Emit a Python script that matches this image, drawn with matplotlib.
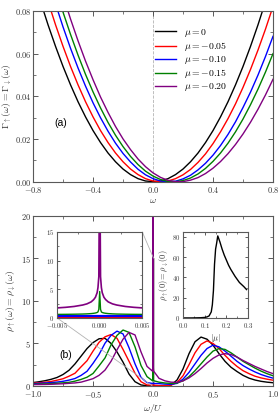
import numpy as np
import matplotlib
matplotlib.use('Agg')
import matplotlib.pyplot as plt
from matplotlib import ticker
from mpl_toolkits.axes_grid1.inset_locator import mark_inset

plt.rcParams['mathtext.fontset'] = 'cm'
plt.rcParams['font.family'] = ['DejaVu Serif']
plt.rcParams['axes.unicode_minus'] = True

# ---- data: panel (a) Gamma(omega) ----
mu_labels = [r'$\mu = 0$', r'$\mu = -0.05$', r'$\mu = -0.10$', r'$\mu = -0.15$', r'$\mu = -0.20$']
colors = ['black', 'red', 'blue', 'green', 'purple']

w_a = np.round(np.arange(-0.8, 0.801, 0.05), 2)
gam_0 = [0.096, 0.0844, 0.0735, 0.0634, 0.054, 0.0454, 0.0375, 0.0304, 0.024, 0.0184, 0.0135, 0.0094, 0.006,
         0.0034, 0.0015, 0.0004, 0.0001, 0.0004, 0.0015, 0.0034, 0.006, 0.0094, 0.0135, 0.0184, 0.024, 0.0304,
         0.0375, 0.0454, 0.054, 0.0634, 0.0735, 0.0844, 0.096]
gam_005 = [0.108, 0.096, 0.0844, 0.0735, 0.0634, 0.054, 0.0454, 0.0375, 0.0304, 0.024, 0.0184, 0.0135, 0.0094,
           0.006, 0.0034, 0.0015, 0.0004, 0.0001, 0.0004, 0.0015, 0.0033, 0.0058, 0.0091, 0.0131, 0.0179, 0.0234,
           0.0296, 0.0365, 0.0442, 0.0526, 0.0617, 0.0715, 0.0821]
gam_010 = [0.12, 0.107, 0.0947, 0.0833, 0.0725, 0.0625, 0.0533, 0.0448, 0.037, 0.03, 0.0237, 0.0181, 0.0133,
           0.0093, 0.0059, 0.0033, 0.0015, 0.0004, 0.0001, 0.0003, 0.0014, 0.0031, 0.0056, 0.0087, 0.0125, 0.017,
           0.0222, 0.0281, 0.0348, 0.042, 0.05, 0.0587, 0.0681]
gam_015 = [0.1285, 0.1151, 0.1025, 0.0906, 0.0794, 0.069, 0.0593, 0.0503, 0.0421, 0.0346, 0.0278, 0.0218, 0.0165,
           0.0119, 0.0081, 0.005, 0.0027, 0.0011, 0.0002, 0.0001, 0.0006, 0.0018, 0.0037, 0.0063, 0.0096, 0.0135,
           0.0181, 0.0234, 0.0294, 0.0361, 0.0434, 0.0514, 0.06]
gam_020 = [0.1383, 0.1244, 0.1113, 0.0988, 0.0872, 0.0762, 0.066, 0.0565, 0.0478, 0.0397, 0.0325, 0.0259, 0.0201,
           0.0151, 0.0107, 0.0071, 0.0042, 0.0021, 0.0007, 0.0001, 0.0001, 0.0008, 0.002, 0.0039, 0.0064, 0.0095,
           0.0132, 0.0175, 0.0224, 0.0279, 0.034, 0.0407, 0.048]
gammas = [gam_0, gam_005, gam_010, gam_015, gam_020]

# ---- data: panel (b) rho(omega), coarse grid without omega=0 ----
w_b = np.round(np.concatenate([np.arange(-1.0, -0.049, 0.05), np.arange(0.05, 1.001, 0.05)]), 2)
rho_0 = [0.40, 0.50, 0.62, 0.78, 1.0, 1.35, 1.85, 2.6, 3.5, 4.4, 5.1, 5.55, 5.6, 5.0, 4.0, 2.8, 1.4, 0.5, 0.12, 0.03,
         0.02, 0.02, 0.1, 0.7, 2.0, 3.8, 5.2, 5.75, 5.5, 4.8, 3.8, 2.9, 2.2, 1.7, 1.25, 0.92, 0.7, 0.55, 0.45, 0.38]
rho_005 = [0.33, 0.38, 0.44, 0.53, 0.68, 0.85, 1.15, 1.5, 2.25, 2.97, 4.1, 5.13, 5.78, 6.05, 5.6, 4.3, 2.9, 1.5, 0.5,
           0.12,
           0.05, 0.05, 0.1, 0.4, 1.2, 2.5, 3.9, 4.9, 5.3, 5.0, 4.4, 3.6, 2.9, 2.3, 1.8, 1.45, 1.15, 0.95, 0.8, 0.68]
rho_010 = [0.27, 0.31, 0.35, 0.4, 0.46, 0.55, 0.69, 0.88, 1.24, 1.73, 2.66, 3.7, 5.03, 5.95, 6.45, 6.12, 4.5, 2.6,
           1.0, 0.4,
           0.28, 0.22, 0.2, 0.3, 0.8, 1.6, 2.6, 3.6, 4.4, 4.8, 4.6, 4.1, 3.5, 2.9, 2.4, 2.0, 1.65, 1.35, 1.12, 0.92]
rho_015 = [0.2, 0.22, 0.25, 0.28, 0.32, 0.37, 0.43, 0.57, 0.77, 1.03, 1.47, 2.36, 3.3, 4.83, 5.95, 6.58, 6.3, 4.6,
           2.4, 1.1,
           0.45, 0.35, 0.3, 0.35, 0.6, 1.1, 1.8, 2.6, 3.4, 4.1, 4.4, 4.3, 3.9, 3.4, 2.9, 2.5, 2.1, 1.75, 1.45, 1.2]
rho_020 = [0.16, 0.17, 0.18, 0.2, 0.23, 0.26, 0.31, 0.36, 0.45, 0.65, 0.86, 1.25, 1.87, 2.9, 4.25, 5.5, 6.3, 6.0,
           4.0, 2.3,
           0.9, 0.6, 0.45, 0.42, 0.6, 0.95, 1.45, 2.05, 2.7, 3.25, 3.65, 3.8, 3.7, 3.4, 3.0, 2.65, 2.3, 2.0, 1.7, 1.45]

# fine grid around omega = 0 (inset 1)
w_fine = [-0.005, -0.004, -0.003, -0.002, -0.0015, -0.001, -0.0007, -0.0005, -0.0003, -0.0002, -0.0001, 0.0,
          0.0001, 0.0002, 0.0003, 0.0005, 0.0007, 0.001, 0.0015, 0.002, 0.003, 0.004, 0.005]
fine_0 = [0.03] * len(w_fine)
fine_005 = [0.1] * len(w_fine)
fine_010 = [0.3] * len(w_fine)
fine_015 = [0.62, 0.63, 0.65, 0.68, 0.71, 0.76, 0.81, 0.86, 0.95, 1.05, 1.5, 4.6,
            1.5, 1.05, 0.95, 0.86, 0.81, 0.76, 0.71, 0.68, 0.65, 0.63, 0.62]
fine_020 = [1.75, 1.85, 2.0, 2.25, 2.45, 2.8, 3.2, 3.6, 4.4, 5.3, 7.2, 30.0,
            7.2, 5.3, 4.4, 3.6, 3.2, 2.8, 2.45, 2.25, 2.0, 1.85, 1.75]
rhos = [rho_0, rho_005, rho_010, rho_015, rho_020]
fines = [fine_0, fine_005, fine_010, fine_015, fine_020]

# inset 2: rho(0) vs |mu|
mu_abs = [0.0, 0.02, 0.04, 0.06, 0.08, 0.1, 0.11, 0.12, 0.13, 0.135, 0.14, 0.145, 0.15, 0.155, 0.16, 0.17, 0.18,
          0.19, 0.2, 0.21, 0.22, 0.24, 0.26, 0.28, 0.293]
rho_zero = [0.0, 0.0, 0.0, 0.1, 0.2, 0.5, 1.0, 2.0, 6.0, 13.0, 27.0, 53.0, 68.0, 74.0, 81.0, 75.0, 68.0,
            62.0, 57.0, 52.0, 48.0, 41.0, 35.0, 31.0, 28.0]


def fmt(n):
    def f(v, p):
        if abs(v) < 1e-12:
            v = 0.0
        return '$%.*f$' % (n, v)
    return ticker.FuncFormatter(f)


def style(ax, fs):
    ax.tick_params(which='both', direction='in', top=True, right=True, labelsize=fs, pad=2, colors='0.25',
                   labelcolor='0.2')
    ax.tick_params(which='major', length=3.5, width=0.6)
    ax.tick_params(which='minor', length=2, width=0.5)
    for s in ax.spines.values():
        s.set_color('0.35')
        s.set_linewidth(0.8)


fig = plt.figure(figsize=(2.8, 4.2), dpi=100)

# ---------- panel (a) ----------
ax_a = fig.add_axes([0.118, 0.567, 0.857, 0.407])
for g, c, lab in zip(gammas, colors, mu_labels):
    ax_a.plot(w_a, g, color=c, lw=1.0, label=lab)
ax_a.axvline(0, color='0.7', lw=0.6, ls='--', zorder=0)
ax_a.set_xlim(-0.8, 0.8)
ax_a.set_ylim(0, 0.08)
ax_a.xaxis.set_major_locator(ticker.MultipleLocator(0.4))
ax_a.xaxis.set_minor_locator(ticker.MultipleLocator(0.2))
ax_a.yaxis.set_major_locator(ticker.MultipleLocator(0.02))
ax_a.yaxis.set_minor_locator(ticker.MultipleLocator(0.01))
ax_a.xaxis.set_major_formatter(fmt(1))
ax_a.yaxis.set_major_formatter(fmt(2))
style(ax_a, 6)
ax_a.tick_params(axis='y', pad=1)
ax_a.set_xlabel(r'$\omega$', fontsize=7, labelpad=1, color='0.2')
ax_a.set_ylabel(r'$\Gamma_{\uparrow}(\omega) = \Gamma_{\downarrow}(\omega)$', fontsize=7, labelpad=1, color='0.2')
ax_a.text(-0.66, 0.026, '(a)', family='Liberation Sans', fontsize=7.5)
ax_a.legend(loc='upper left', bbox_to_anchor=(0.49, 0.93), frameon=False, fontsize=7, handlelength=2.2,
            labelspacing=0.12, borderaxespad=0, handletextpad=0.8)

# ---------- panel (b) ----------
ax_b = fig.add_axes([0.118, 0.081, 0.857, 0.405])
for r, fr, c in zip(rhos, fines, colors):
    w_all = np.concatenate([w_b, w_fine])
    r_all = np.concatenate([r, fr])
    order = np.argsort(w_all)
    ax_b.plot(w_all[order], r_all[order], color=c, lw=1.0)
ax_b.set_xlim(-1, 1)
ax_b.set_ylim(0, 20)
ax_b.xaxis.set_major_locator(ticker.MultipleLocator(0.5))
ax_b.xaxis.set_minor_locator(ticker.MultipleLocator(0.25))
ax_b.yaxis.set_major_locator(ticker.MultipleLocator(5))
ax_b.yaxis.set_minor_locator(ticker.MultipleLocator(2.5))
ax_b.xaxis.set_major_formatter(fmt(1))
ax_b.yaxis.set_major_formatter(fmt(0))
style(ax_b, 6)
ax_b.tick_params(axis='y', pad=1.5)
ax_b.tick_params(axis='x', pad=2.5)
ax_b.set_xlabel(r'$\omega/U$', fontsize=7, labelpad=1, color='0.2')
ax_b.set_ylabel(r'$\rho_{\uparrow}(\omega) = \rho_{\downarrow}(\omega)$', fontsize=7, labelpad=2, color='0.2')
ax_b.text(-0.78, 3.3, '(b)', family='Liberation Sans', fontsize=7.5)

# ---------- inset 1 ----------
ax_i1 = fig.add_axes([0.204, 0.243, 0.304, 0.205])
for fr, c, lw in zip(fines, colors, [1.0, 1.0, 1.6, 1.0, 1.2]):
    ax_i1.plot(w_fine, fr, color=c, lw=lw)
ax_i1.set_xlim(-0.005, 0.005)
ax_i1.set_ylim(0, 15)
ax_i1.xaxis.set_major_locator(ticker.MultipleLocator(0.005))
ax_i1.xaxis.set_minor_locator(ticker.MultipleLocator(0.0025))
ax_i1.yaxis.set_major_locator(ticker.MultipleLocator(5))
ax_i1.yaxis.set_minor_locator(ticker.MultipleLocator(2.5))
ax_i1.xaxis.set_major_formatter(fmt(3))
ax_i1.yaxis.set_major_formatter(fmt(0))
style(ax_i1, 4.8)
ax_i1.tick_params(which='major', length=2.5)
ax_i1.tick_params(which='minor', length=1.5)
ax_i1.tick_params(axis='x', pad=2.5)
mark_inset(ax_b, ax_i1, loc1=1, loc2=3, fc='none', ec='0.7', lw=0.6)

# ---------- inset 2 ----------
ax_i2 = fig.add_axes([0.654, 0.243, 0.232, 0.205])
ax_i2.plot(mu_abs, rho_zero, color='black', lw=1.0)
ax_i2.set_xlim(0, 0.3)
ax_i2.set_ylim(0, 85)
ax_i2.xaxis.set_major_locator(ticker.MultipleLocator(0.1))
ax_i2.xaxis.set_minor_locator(ticker.MultipleLocator(0.05))
ax_i2.yaxis.set_major_locator(ticker.MultipleLocator(20))
ax_i2.yaxis.set_minor_locator(ticker.MultipleLocator(10))
ax_i2.xaxis.set_major_formatter(fmt(1))
ax_i2.yaxis.set_major_formatter(fmt(0))
style(ax_i2, 4.8)
ax_i2.tick_params(which='major', length=2.5)
ax_i2.tick_params(which='minor', length=1.5)
ax_i2.tick_params(axis='x', pad=2.5)
ax_i2.set_xlabel(r'$|\mu|$', fontsize=6, labelpad=1, color='0.2')
ax_i2.set_ylabel(r'$\rho_{\uparrow}(0) = \rho_{\downarrow}(0)$', fontsize=6, labelpad=1, color='0.2')

fig.savefig('out.png', dpi=100)
